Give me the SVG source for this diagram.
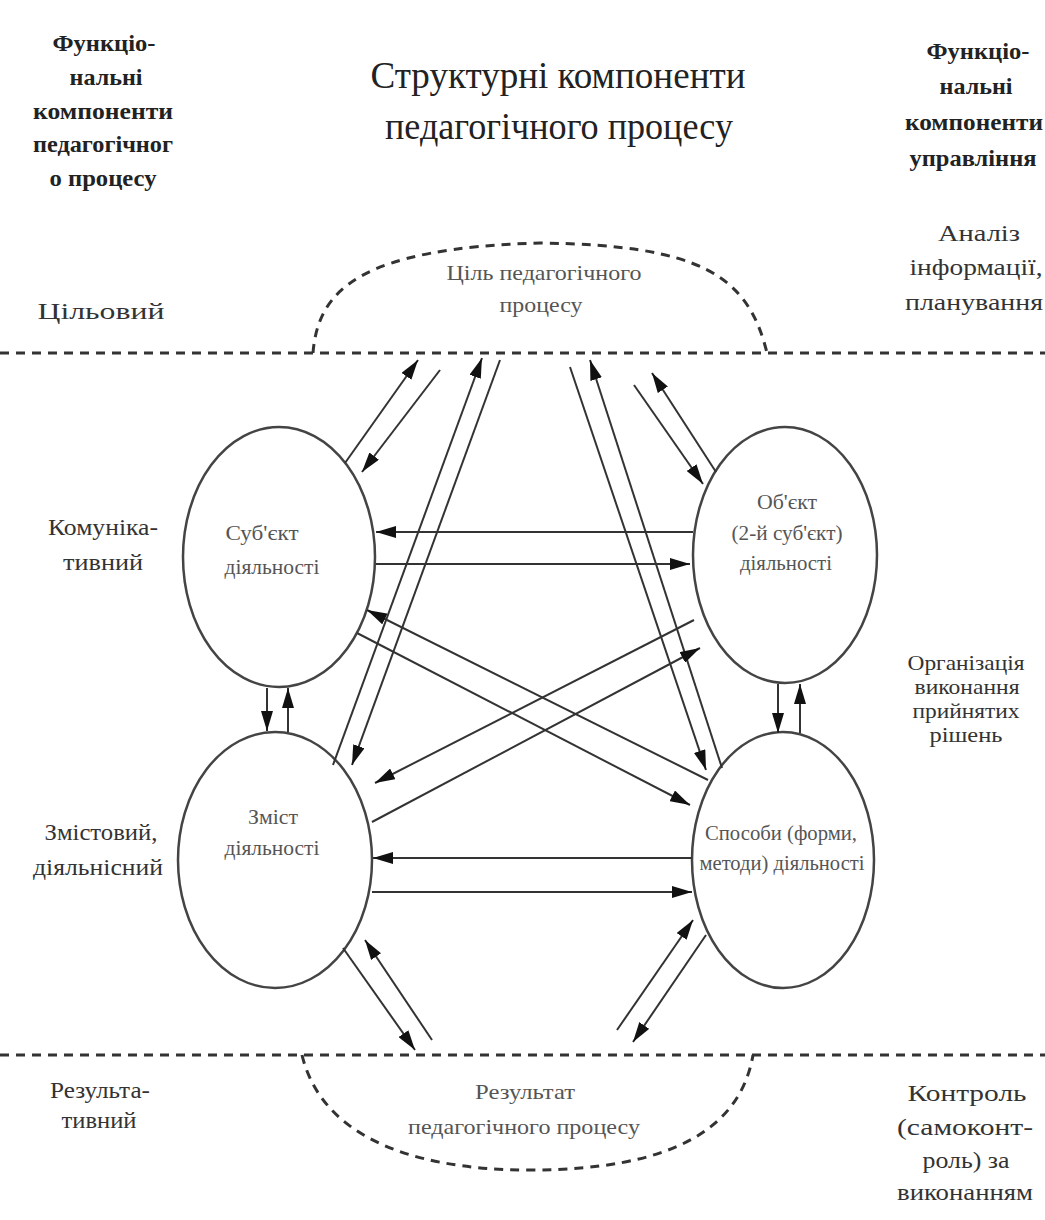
<svg xmlns="http://www.w3.org/2000/svg" width="1045" height="1220" viewBox="0 0 1045 1220">
<style>
text{font-family:"Liberation Serif","Times New Roman",serif;fill:#333;text-anchor:middle}
.hb{font-weight:bold;font-size:24px;fill:#222}
.ttl{font-size:37px;fill:#222}
.lab{font-size:24px}
.rl{font-size:24px}
.sm{font-size:21px}
.el{font-size:20px;fill:#555}
.cl{font-size:22px;fill:#555}
.dash{fill:none;stroke:#333;stroke-width:3;stroke-dasharray:9 7}
.node ellipse{fill:#fff;stroke:#444;stroke-width:2.5}
.conn line{stroke:#333;stroke-width:2;marker-end:url(#ah)}
</style>
<defs>
<marker id="ah" viewBox="0 0 20 12" refX="20" refY="6" markerWidth="20" markerHeight="12" markerUnits="userSpaceOnUse" orient="auto">
<path d="M0,0 L20,6 L0,12 z" fill="#111"/>
</marker>
</defs>
<rect width="1045" height="1220" fill="#fff"/>

<g id="header-left">
<text class="hb" x="104" y="51" textLength="103" lengthAdjust="spacingAndGlyphs">Функціо-</text>
<text class="hb" x="106" y="85" textLength="73" lengthAdjust="spacingAndGlyphs">нальні</text>
<text class="hb" x="103" y="119" textLength="140" lengthAdjust="spacingAndGlyphs">компоненти</text>
<text class="hb" x="103" y="152" textLength="140" lengthAdjust="spacingAndGlyphs">педагогічног</text>
<text class="hb" x="103" y="186" textLength="107" lengthAdjust="spacingAndGlyphs">о процесу</text>
</g>
<g id="title">
<text class="ttl" x="558" y="88" textLength="375" lengthAdjust="spacingAndGlyphs">Структурні компоненти</text>
<text class="ttl" x="559" y="139" textLength="348" lengthAdjust="spacingAndGlyphs">педагогічного процесу</text>
</g>
<g id="header-right">
<text class="hb" x="978" y="59" textLength="103" lengthAdjust="spacingAndGlyphs">Функціо-</text>
<text class="hb" x="976" y="94" textLength="73" lengthAdjust="spacingAndGlyphs">нальні</text>
<text class="hb" x="974" y="130" textLength="138" lengthAdjust="spacingAndGlyphs">компоненти</text>
<text class="hb" x="973" y="166" textLength="127" lengthAdjust="spacingAndGlyphs">управління</text>
</g>

<g id="row-labels-left">
<text class="lab" x="101" y="319" textLength="127" lengthAdjust="spacingAndGlyphs">Цільовий</text>
<text class="lab" x="103" y="535" textLength="110" lengthAdjust="spacingAndGlyphs">Комуніка-</text>
<text class="lab" x="103" y="570" textLength="80" lengthAdjust="spacingAndGlyphs">тивний</text>
<text class="lab" x="101" y="840" textLength="113" lengthAdjust="spacingAndGlyphs">Змістовий,</text>
<text class="lab" x="98" y="875" textLength="130" lengthAdjust="spacingAndGlyphs">діяльнісний</text>
<text class="lab" x="100" y="1098" textLength="100" lengthAdjust="spacingAndGlyphs">Результа-</text>
<text class="lab" x="99" y="1128" textLength="75" lengthAdjust="spacingAndGlyphs">тивний</text>
</g>
<g id="row-labels-right">
<text class="rl" x="979" y="241" textLength="82" lengthAdjust="spacingAndGlyphs">Аналіз</text>
<text class="rl" x="976" y="275" textLength="133" lengthAdjust="spacingAndGlyphs">інформації,</text>
<text class="rl" x="974" y="310" textLength="138" lengthAdjust="spacingAndGlyphs">планування</text>
<text class="sm" x="966" y="670" textLength="117" lengthAdjust="spacingAndGlyphs">Організація</text>
<text class="sm" x="967" y="694" textLength="105" lengthAdjust="spacingAndGlyphs">виконання</text>
<text class="sm" x="966" y="718" textLength="107" lengthAdjust="spacingAndGlyphs">прийнятих</text>
<text class="sm" x="966" y="742" textLength="73" lengthAdjust="spacingAndGlyphs">рішень</text>
<text class="rl" x="967" y="1101" textLength="119" lengthAdjust="spacingAndGlyphs">Контроль</text>
<text class="rl" x="965" y="1135" textLength="136" lengthAdjust="spacingAndGlyphs">(самоконт-</text>
<text class="rl" x="966" y="1168" textLength="87" lengthAdjust="spacingAndGlyphs">роль) за</text>
<text class="rl" x="965" y="1200" textLength="136" lengthAdjust="spacingAndGlyphs">виконанням</text>
</g>

<g id="boundaries">
<line class="dash" x1="0" y1="353" x2="1045" y2="353"/>
<line class="dash" x1="0" y1="1055" x2="1045" y2="1055"/>
</g>

<g id="goal">
<path class="dash" d="M313,353 C318,290 360,248 540,243 C700,245 748,275 767,353"/>
<text class="cl" x="544" y="280" textLength="195" lengthAdjust="spacingAndGlyphs">Ціль педагогічного</text>
<text class="cl" x="541" y="312" textLength="83" lengthAdjust="spacingAndGlyphs">процесу</text>
</g>
<g id="result">
<path class="dash" d="M302,1055 C320,1130 400,1170 530,1170 C670,1170 740,1130 753,1055"/>
<text class="cl" x="525" y="1099" textLength="100" lengthAdjust="spacingAndGlyphs">Результат</text>
<text class="cl" x="524" y="1134" textLength="232" lengthAdjust="spacingAndGlyphs">педагогічного процесу</text>
</g>

<g id="subject" class="node">
<ellipse cx="279" cy="557" rx="96" ry="130"/>
<text class="el" x="262" y="540" textLength="73" lengthAdjust="spacingAndGlyphs">Суб'єкт</text>
<text class="el" x="272" y="574" textLength="95" lengthAdjust="spacingAndGlyphs">діяльності</text>
</g>
<g id="object" class="node">
<ellipse cx="785" cy="555" rx="92" ry="128"/>
<text class="el" x="787" y="509" textLength="60" lengthAdjust="spacingAndGlyphs">Об'єкт</text>
<text class="el" x="787" y="540" textLength="111" lengthAdjust="spacingAndGlyphs">(2-й суб'єкт)</text>
<text class="el" x="786" y="570" textLength="92" lengthAdjust="spacingAndGlyphs">діяльності</text>
</g>
<g id="content" class="node">
<ellipse cx="275" cy="860" rx="97" ry="128"/>
<text class="el" x="273" y="824" textLength="50" lengthAdjust="spacingAndGlyphs">Зміст</text>
<text class="el" x="272" y="855" textLength="95" lengthAdjust="spacingAndGlyphs">діяльності</text>
</g>
<g id="methods" class="node">
<ellipse cx="783" cy="860" rx="91" ry="128"/>
<text class="el" x="781" y="840" textLength="152" lengthAdjust="spacingAndGlyphs">Способи (форми,</text>
<text class="el" x="782" y="870" textLength="165" lengthAdjust="spacingAndGlyphs">методи) діяльності</text>
</g>

<g id="connectors" class="conn">
<line x1="345" y1="463" x2="418" y2="360"/>
<line x1="440" y1="370" x2="362" y2="472"/>
<line x1="333" y1="765" x2="482" y2="358"/>
<line x1="500" y1="360" x2="352" y2="765"/>
<line x1="570" y1="367" x2="706" y2="770"/>
<line x1="722" y1="768" x2="590" y2="360"/>
<line x1="716" y1="472" x2="652" y2="373"/>
<line x1="634" y1="385" x2="703" y2="484"/>
<line x1="693" y1="532" x2="376" y2="532"/>
<line x1="376" y1="564" x2="690" y2="564"/>
<line x1="692" y1="858" x2="373" y2="858"/>
<line x1="372" y1="892" x2="692" y2="892"/>
<line x1="267" y1="688" x2="267" y2="731"/>
<line x1="288" y1="732" x2="288" y2="688"/>
<line x1="778" y1="684" x2="778" y2="733"/>
<line x1="800" y1="733" x2="800" y2="684"/>
<line x1="708" y1="780" x2="367" y2="610"/>
<line x1="357" y1="633" x2="690" y2="805"/>
<line x1="694" y1="620" x2="375" y2="783"/>
<line x1="372" y1="822" x2="700" y2="648"/>
<line x1="617" y1="1030" x2="693" y2="920"/>
<line x1="706" y1="935" x2="633" y2="1042"/>
<line x1="343" y1="948" x2="415" y2="1050"/>
<line x1="432" y1="1040" x2="365" y2="940"/>
</g>
</svg>
